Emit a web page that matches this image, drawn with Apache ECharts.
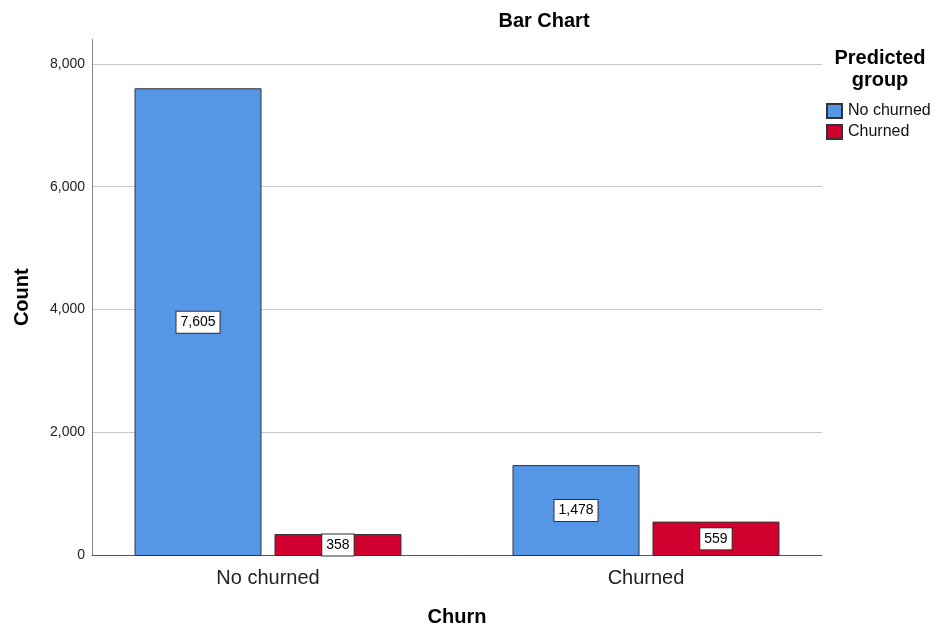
<!DOCTYPE html>
<html>
<head>
<meta charset="utf-8">
<title>Bar Chart</title>
<script src="https://cdn.jsdelivr.net/npm/echarts@6/dist/echarts.min.js"></script>
<style>
  html, body { margin: 0; padding: 0; background: #fff; }
  #chart { width: 938px; height: 632px; }
</style>
</head>
<body>
<div id="chart"></div>
<script>
// Churn (x) split by predicted group
const categories = ['No churned', 'Churned'];
const groupNames = ['No churned', 'Churned'];
const predNoChurn = [7605, 1478];
const predChurn = [358, 559];
const yTicks = [0, 2000, 4000, 6000, 8000];

const FONT = '"Liberation Sans", Arial, sans-serif';
const colors = ['#5596e6', '#d2002f'];
const fmt = v => Number(v).toLocaleString('en-US');

const chart = echarts.init(document.getElementById('chart'), null, { renderer: 'canvas' });

const gridTop = 39.4, gridBottom = 76;

const barLabel = {
  show: true,
  position: 'inside',
  formatter: p => fmt(p.value),
  color: '#000',
  fontFamily: FONT,
  fontSize: 14,
  backgroundColor: '#fff',
  borderColor: '#333',
  borderWidth: 1,
  padding: [4, 4, 3, 4]
};

chart.setOption({
  animation: false,
  textStyle: { fontFamily: FONT },
  title: [
    {
      text: 'Bar Chart',
      left: 544, top: 11, textAlign: 'center', padding: 0,
      textStyle: { fontFamily: FONT, fontSize: 20, fontWeight: 'bold', color: '#000', lineHeight: 20 }
    },
    {
      text: 'Predicted\ngroup',
      left: 880, top: 47, textAlign: 'center', padding: 0,
      textStyle: { fontFamily: FONT, fontSize: 20, fontWeight: 'bold', color: '#000', lineHeight: 22 }
    }
  ],
  legend: {
    data: groupNames,
    orient: 'vertical',
    left: 826, top: 103,
    padding: 0,
    itemWidth: 15, itemHeight: 14,
    itemGap: 5,
    icon: 'rect',
    selectedMode: false,
    textStyle: { fontFamily: FONT, fontSize: 16, color: '#111', padding: [0, 0, 0, 1] }
  },
  grid: [
    // frame: axis lines and gridlines
    { left: 92, right: 116, top: gridTop, bottom: gridBottom },
    // bars
    { left: 79, right: 103, top: gridTop, bottom: gridBottom }
  ],
  xAxis: [
    {
      gridIndex: 0, type: 'category', data: ['', ''],
      axisLine: { show: true, lineStyle: { color: '#555', width: 1 } },
      axisTick: { show: false }, axisLabel: { show: false },
      splitLine: { show: false },
      name: 'Churn', nameLocation: 'middle', nameGap: 52,
      nameTextStyle: { fontFamily: FONT, fontSize: 20, fontWeight: 'bold', color: '#000' }
    },
    {
      gridIndex: 1, type: 'category', data: categories,
      axisLine: { show: false }, axisTick: { show: false },
      axisLabel: { margin: 12, fontFamily: FONT, fontSize: 20, color: '#222' },
      splitLine: { show: false }
    }
  ],
  yAxis: [
    {
      gridIndex: 0, type: 'value', min: yTicks[0], max: 8400, interval: 2000,
      axisLine: { show: true, lineStyle: { color: '#888', width: 1 } },
      axisTick: { show: false },
      axisLabel: {
        margin: 7, fontFamily: FONT, fontSize: 14, color: '#222',
        showMaxLabel: false,
        formatter: v => (yTicks.includes(v) ? fmt(v) : '')
      },
      splitLine: { show: true, showMinLine: false, showMaxLine: false, lineStyle: { color: '#c8c8c8', width: 1 } },
      name: 'Count', nameLocation: 'middle', nameRotate: 90, nameGap: 60,
      nameTextStyle: { fontFamily: FONT, fontSize: 20, fontWeight: 'bold', color: '#000' }
    },
    {
      gridIndex: 1, type: 'value', min: yTicks[0], max: 8400, interval: 2000,
      show: false, splitLine: { show: false }
    }
  ],
  series: [
    {
      name: groupNames[0], type: 'bar', xAxisIndex: 1, yAxisIndex: 1,
      data: predNoChurn, barWidth: 127, barGap: '10.2%',
      itemStyle: { color: colors[0], borderColor: '#333', borderWidth: 1 },
      label: barLabel
    },
    {
      name: groupNames[1], type: 'bar', xAxisIndex: 1, yAxisIndex: 1,
      data: predChurn, barWidth: 127, barGap: '10.2%',
      itemStyle: { color: colors[1], borderColor: '#333', borderWidth: 1 },
      label: barLabel
    }
  ]
});
</script>
</body>
</html>
